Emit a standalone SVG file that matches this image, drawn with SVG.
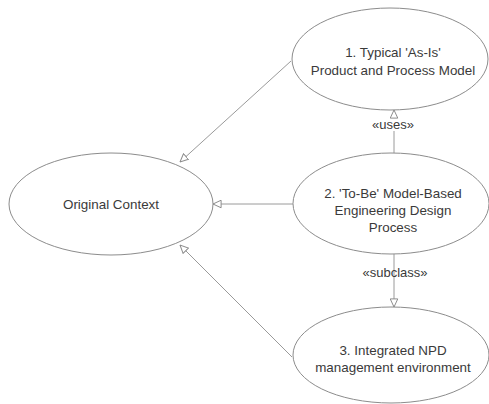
<svg xmlns="http://www.w3.org/2000/svg" width="489" height="404" viewBox="0 0 489 404">
<style>
.node ellipse{fill:#fff;stroke:#8c8c8c;stroke-width:1}
.node text{font-family:"Liberation Sans",Arial,sans-serif;font-size:13.4px;fill:#3a3a3a;text-anchor:middle}
.lbl{font-family:"Liberation Sans",Arial,sans-serif;font-size:13px;fill:#3a3a3a;text-anchor:middle}
.edge{stroke:#9a9a9a;stroke-width:1;fill:none}
</style>
<defs>
<marker id="tri" viewBox="0 0 10 10" refX="9.5" refY="5" markerWidth="9" markerHeight="9" markerUnits="userSpaceOnUse" orient="auto">
<path d="M0.5,0.8 L9.5,5 L0.5,9.2 Z" fill="#fff" stroke="#8c8c8c" stroke-width="1.1"/>
</marker>
</defs>
<g id="connectors">
<line class="edge" x1="291" y1="61" x2="180" y2="162" marker-end="url(#tri)"/>
<line class="edge" x1="293" y1="204" x2="213" y2="204" marker-end="url(#tri)"/>
<line class="edge" x1="292" y1="357" x2="180" y2="245" marker-end="url(#tri)"/>
<line class="edge" x1="394" y1="153" x2="394" y2="131"/>
<line class="edge" x1="394" y1="118" x2="394" y2="110" marker-end="url(#tri)"/>
<line class="edge" x1="394" y1="254" x2="394" y2="307" marker-end="url(#tri)"/>
<text class="lbl" x="393" y="129">«uses»</text>
<text class="lbl" x="395" y="277">«subclass»</text>
</g>
<g id="node-original" class="node">
<ellipse cx="111" cy="204" rx="102" ry="51"/>
<text x="111" y="208.5">Original Context</text>
</g>
<g id="node-1" class="node">
<ellipse cx="390" cy="59" rx="98" ry="51"/>
<text x="393" y="57">1. Typical 'As-Is'</text>
<text x="393" y="75">Product and Process Model</text>
</g>
<g id="node-2" class="node">
<ellipse cx="391" cy="203.5" rx="98" ry="50.5"/>
<text x="393" y="198">2. 'To-Be' Model-Based</text>
<text x="393" y="215">Engineering Design</text>
<text x="393" y="232">Process</text>
</g>
<g id="node-3" class="node">
<ellipse cx="391" cy="355" rx="98" ry="48"/>
<text x="393" y="355">3. Integrated NPD</text>
<text x="393" y="372">management environment</text>
</g>
</svg>
